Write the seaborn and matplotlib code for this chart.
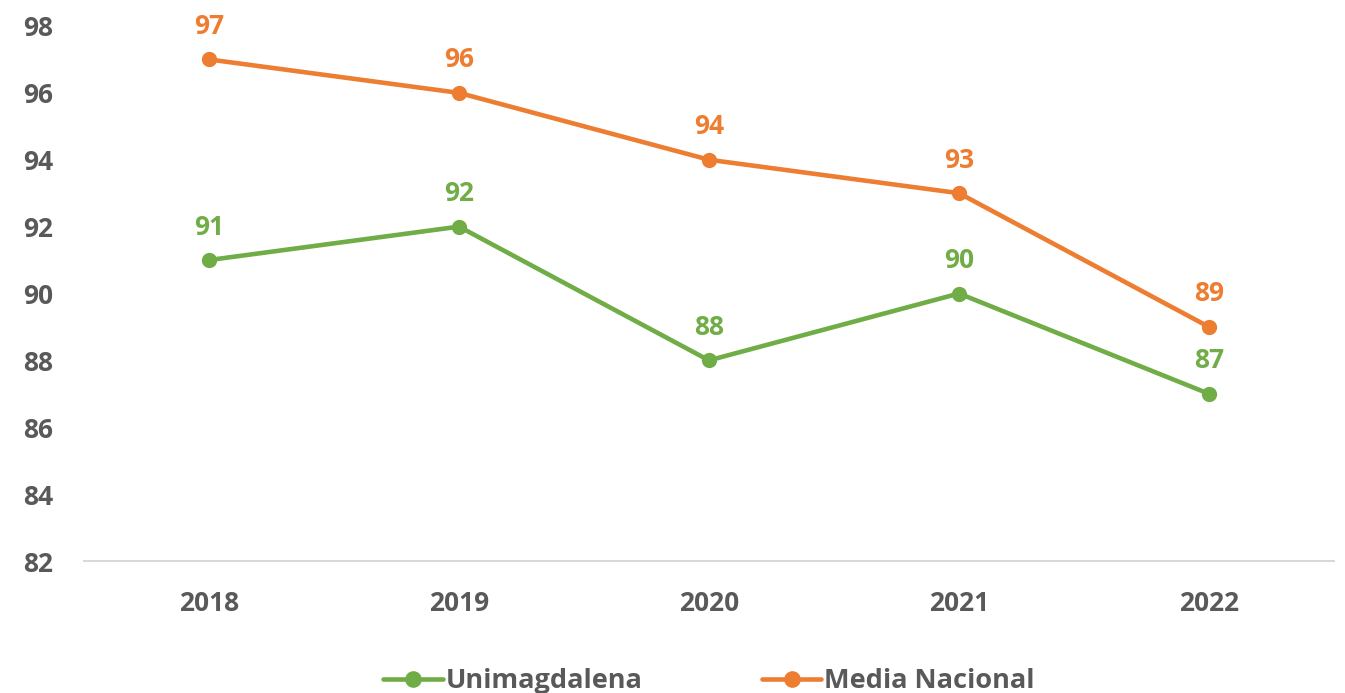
import matplotlib
matplotlib.use("Agg")
import matplotlib.pyplot as plt
import seaborn as sns
import pandas as pd

# data
years = ["2018", "2019", "2020", "2021", "2022"]
unimag = [91, 92, 88, 90, 87]
media_nac = [97, 96, 94, 93, 89]
series_names = ["Unimagdalena", "Media Nacional"]
colors = ["#70AD47", "#ED7D31"]
text_col = "#595959"

sns.set_theme(style="white")
plt.rcParams["font.family"] = ["Open Sans", "DejaVu Sans"]
plt.rcParams["font.weight"] = "bold"

df = pd.DataFrame({
    "year": years * 2,
    "value": unimag + media_nac,
    "serie": [series_names[0]] * len(years) + [series_names[1]] * len(years),
})

fig = plt.figure(figsize=(13.45, 6.93), dpi=100)
ax = fig.add_axes([84 / 1345, (693 - 561) / 693, 1250 / 1345, 535 / 693])

sns.lineplot(data=df, x="year", y="value", hue="serie", palette=colors,
             marker="o", markersize=11, markeredgewidth=0, linewidth=3.3,
             sort=False, ax=ax)

# data labels
for vals, c in zip([unimag, media_nac], colors):
    for i, v in enumerate(vals):
        ax.annotate(str(v), (i, v), xytext=(0, 14), textcoords="offset points",
                    ha="center", va="bottom", color=c, fontsize=19,
                    fontweight="bold", annotation_clip=False)

ax.set_xlim(-0.5, 4.5)
ax.set_ylim(82, 98)
ax.set_yticks(range(82, 99, 2))
ax.set_xlabel("")
ax.set_ylabel("")
for s in ["top", "right", "left"]:
    ax.spines[s].set_visible(False)
ax.spines["bottom"].set_color("#D9D9D9")
ax.spines["bottom"].set_linewidth(1.5)
ax.tick_params(axis="y", length=0, pad=22, labelsize=19, labelcolor=text_col)
ax.tick_params(axis="x", length=0, pad=21, labelsize=19, labelcolor=text_col)
for lab in ax.get_xticklabels() + ax.get_yticklabels():
    lab.set_fontweight("bold")
ax.patch.set_alpha(0)

leg = ax.legend(loc="upper center", bbox_to_anchor=(0.5, -0.175), ncol=2,
                frameon=False, fontsize=19.5, handlelength=2.2,
                handletextpad=0.1, columnspacing=4.4, borderpad=0)
for t in leg.get_texts():
    t.set_color(text_col)
    t.set_fontweight("bold")
for h in leg.legend_handles:
    h.set_markersize(12)

fig.savefig("out.png", dpi=100, facecolor="white")
